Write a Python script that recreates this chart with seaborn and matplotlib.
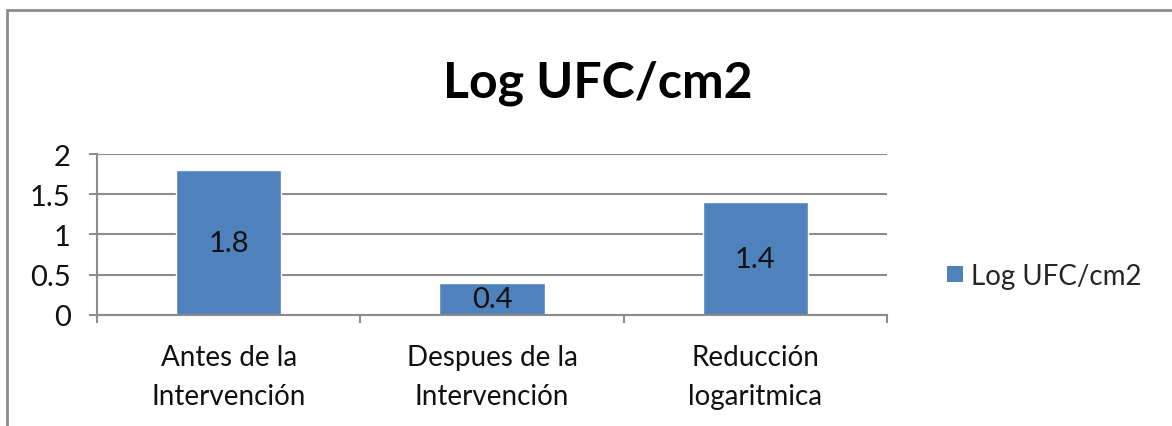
import pandas as pd
import matplotlib.pyplot as plt
import seaborn as sns
from matplotlib.patches import Rectangle, Patch

categorias = ["Antes de la\nIntervención", "Despues de la\nIntervención", "Reducción\nlogaritmica"]
valores = [1.8, 0.4, 1.4]
serie = "Log UFC/cm2"
yticks = [0, 0.5, 1, 1.5, 2]

df = pd.DataFrame({"categoria": categorias, "valor": valores})

sns.set_style("white")
plt.rcParams["font.family"] = ["Lato", "DejaVu Sans"]

azul = "#4F81BD"
gris = "#8C8C8C"
texto = "#111111"

fig = plt.figure(figsize=(11.72, 4.27), dpi=100)
ax = fig.add_axes([0.0828, 0.26, 0.674, 0.377])

sns.barplot(data=df, x="categoria", y="valor", color=azul, width=0.4,
            saturation=1, ax=ax)

ax.set_ylim(0, 2)
ax.set_xlim(-0.5, 2.5)
ax.set_yticks(yticks)
ax.set_yticklabels(["0", "0.5", "1", "1.5", "2"])
ax.set_xlabel("")
ax.set_ylabel("")
ax.yaxis.grid(True, color=gris, linewidth=1.5)
ax.set_axisbelow(True)

for s in ["top", "right"]:
    ax.spines[s].set_visible(False)
for s in ["left", "bottom"]:
    ax.spines[s].set_color(gris)
    ax.spines[s].set_linewidth(1.5)

ax.tick_params(axis="y", length=6, width=1.5, color=gris, pad=13,
               labelsize=21, labelcolor=texto, left=True)
ax.tick_params(axis="x", length=0, pad=21, labelsize=20, labelcolor=texto)
for t in ax.get_xticklabels():
    t.set_linespacing(1.6)

# category boundary ticks
ax.set_xticks([-0.5, 0.5, 1.5, 2.5], minor=True)
ax.tick_params(axis="x", which="minor", length=6, width=1.5, color=gris, bottom=True)

for c in ax.containers:
    ax.bar_label(c, labels=[f"{v:g}" for v in valores], label_type="center",
                 fontsize=21, color=texto)

fig.text(0.51, 0.805, serie, ha="center", va="center", fontsize=36,
         fontweight="bold", color="black")

ax.legend(handles=[Patch(facecolor=azul, edgecolor="none", label=serie)],
          loc="center left", bbox_to_anchor=(0.787, 0.352),
          bbox_transform=fig.transFigure, frameon=False, fontsize=20,
          handlelength=0.55, handleheight=0.55, handletextpad=0.3)

fig.patches.append(Rectangle((7 / 1172, -0.1), 1.2, 1 - 11 / 427 + 0.1,
                             transform=fig.transFigure, fill=False,
                             edgecolor=gris, linewidth=2))

fig.savefig("out.png", dpi=100)
